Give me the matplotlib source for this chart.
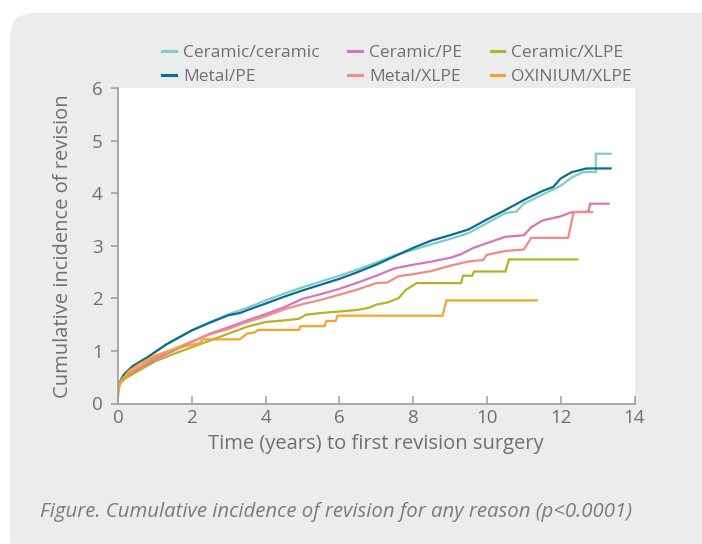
import matplotlib
matplotlib.use("Agg")
import matplotlib.pyplot as plt
from matplotlib.patches import FancyBboxPatch

plt.rcParams['font.family'] = ['Open Sans', 'DejaVu Sans']

# series (years, cumulative incidence %)
labels = ["Ceramic/ceramic", "Metal/PE", "Ceramic/PE", "Metal/XLPE",
          "Ceramic/XLPE", "OXINIUM/XLPE"]
colors = ["#7fcdc5", "#0b6c94", "#d476bd", "#f48a85", "#b3b325", "#f7a22a"]

cc_t = [0, 0.05, 0.15, 0.4, 0.8, 1.3, 2.0, 2.5, 3.0, 3.5, 4.0, 4.5, 5.0, 5.5, 6.0, 6.5,
        7.0, 7.5, 8.0, 8.5, 9.0, 9.5, 10.0, 10.5, 10.8, 11.0, 11.5, 12.0, 12.3, 12.6,
        12.95, 12.95, 13.35]
cc_v = [0.3, 0.42, 0.55, 0.72, 0.88, 1.12, 1.39, 1.55, 1.70, 1.82, 1.96, 2.09, 2.21, 2.32,
        2.43, 2.55, 2.68, 2.82, 2.92, 3.03, 3.13, 3.24, 3.43, 3.62, 3.65, 3.80, 3.97, 4.14,
        4.30, 4.40, 4.40, 4.75, 4.75]

mpe_t = [0, 0.05, 0.15, 0.4, 0.8, 1.3, 2.0, 2.5, 3.0, 3.3, 3.6, 4.0, 4.5, 5.0, 5.5, 6.0,
         6.5, 7.0, 7.5, 8.0, 8.5, 9.0, 9.5, 10.0, 10.5, 11.0, 11.5, 11.8, 12.0, 12.3, 12.7,
         13.35]
mpe_v = [0.29, 0.4, 0.54, 0.71, 0.88, 1.12, 1.39, 1.54, 1.68, 1.72, 1.80, 1.90, 2.03, 2.15,
         2.26, 2.37, 2.50, 2.64, 2.80, 2.96, 3.10, 3.20, 3.31, 3.50, 3.68, 3.87, 4.04, 4.12,
         4.28, 4.40, 4.47, 4.47]

cpe_t = [0, 0.05, 0.2, 0.5, 1.0, 1.5, 2.0, 2.5, 3.0, 3.5, 4.0, 4.5, 5.0, 5.5, 6.0, 6.5,
         7.0, 7.5, 8.0, 8.5, 9.0, 9.3, 9.6, 10.0, 10.5, 11.0, 11.2, 11.5, 12.0, 12.3, 12.75,
         12.8, 13.3]
cpe_v = [0.25, 0.38, 0.5, 0.62, 0.84, 1.0, 1.17, 1.33, 1.45, 1.58, 1.70, 1.83, 1.99, 2.08,
         2.18, 2.30, 2.43, 2.57, 2.64, 2.70, 2.77, 2.84, 2.95, 3.05, 3.17, 3.20, 3.35, 3.48,
         3.56, 3.64, 3.65, 3.80, 3.80]

mx_t = [0, 0.05, 0.2, 0.5, 1.0, 1.5, 2.0, 2.5, 3.0, 3.5, 4.0, 4.5, 5.0, 5.5, 6.0, 6.5, 7.0,
        7.3, 7.6, 8.0, 8.5, 9.0, 9.5, 9.9, 10.0, 10.5, 11.0, 11.2, 12.2, 12.35, 12.85]
mx_v = [0.28, 0.4, 0.52, 0.66, 0.88, 1.03, 1.18, 1.32, 1.42, 1.55, 1.66, 1.79, 1.89, 1.97,
        2.07, 2.17, 2.29, 2.30, 2.42, 2.46, 2.52, 2.62, 2.70, 2.73, 2.83, 2.90, 2.93, 3.15,
        3.15, 3.64, 3.64]

cx_t = [0, 0.05, 0.2, 0.5, 1.0, 1.5, 2.0, 2.5, 3.0, 3.5, 4.0, 4.5, 4.9, 5.1, 5.5, 6.0, 6.5,
        6.8, 7.0, 7.3, 7.6, 7.8, 8.1, 9.3, 9.35, 9.6, 9.65, 10.5, 10.6, 12.45]
cx_v = [0.28, 0.38, 0.48, 0.6, 0.8, 0.94, 1.07, 1.2, 1.33, 1.46, 1.55, 1.58, 1.61, 1.69,
        1.72, 1.75, 1.78, 1.82, 1.88, 1.92, 2.0, 2.16, 2.29, 2.29, 2.43, 2.43, 2.51, 2.51,
        2.74, 2.74]

ox_t = [0, 0.03, 0.1, 0.3, 0.6, 1.0, 1.5, 2.0, 2.2, 2.3, 3.3, 3.5, 3.7, 3.8, 4.9, 4.95,
        5.6, 5.65, 5.9, 5.95, 8.8, 8.9, 11.35]
ox_v = [0.12, 0.3, 0.45, 0.62, 0.76, 0.91, 1.03, 1.12, 1.14, 1.22, 1.22, 1.33, 1.35, 1.40,
        1.40, 1.47, 1.47, 1.57, 1.57, 1.67, 1.67, 1.96, 1.96]

series = [(cc_t, cc_v), (mpe_t, mpe_v), (cpe_t, cpe_v), (mx_t, mx_v),
          (cx_t, cx_v), (ox_t, ox_v)]

x_ticks = [0, 2, 4, 6, 8, 10, 12, 14]
y_ticks = [0, 1, 2, 3, 4, 5, 6]

text_col = "#6f7073"
spine_col = "#9b9c9e"

fig = plt.figure(figsize=(7.02, 5.44), dpi=100)
fig.patch.set_facecolor("white")

# grey rounded panel behind everything
W, H = 702.0, 544.0
panel = FancyBboxPatch((10 / W, -20 / H), 720 / W, 551 / H,
                       boxstyle="round,pad=0,rounding_size=0.035",
                       transform=fig.transFigure, facecolor="#ebecec",
                       edgecolor="none", zorder=-5, mutation_aspect=W / H)
fig.patches.append(panel)

ax = fig.add_axes([118 / W, (H - 403.5) / H, 516.5 / W, 315.5 / H])
ax.set_zorder(2)
ax.set_facecolor("white")

for (t, v), lab, c in zip(series, labels, colors):
    ax.plot(t, v, color=c, lw=1.6, label=lab, solid_joinstyle="miter")

ax.set_xlim(0, 14)
ax.set_ylim(0, 6)
ax.set_xticks(x_ticks)
ax.set_yticks(y_ticks)
for s in ["top", "right"]:
    ax.spines[s].set_visible(False)
for s in ["left", "bottom"]:
    ax.spines[s].set_color(spine_col)
    ax.spines[s].set_linewidth(1.2)
ax.tick_params(axis="y", direction="out", length=5, width=1.1, color=spine_col,
               labelsize=13.5, labelcolor=text_col, pad=6)
ax.tick_params(axis="x", direction="in", length=6, width=1.1, color=spine_col,
               labelsize=13.5, labelcolor=text_col, pad=4)

ax.set_xlabel("Time (years) to first revision surgery", fontsize=14.5, color=text_col,
              labelpad=5)
ax.set_ylabel("Cumulative incidence of revision", fontsize=14.5, color=text_col,
              labelpad=14)

leg = fig.legend(loc="upper left", bbox_to_anchor=(155 / W, 1 - 38 / H), ncol=3,
                 frameon=False, fontsize=12.5, handlelength=0.8, handletextpad=0.4,
                 columnspacing=1.65, labelspacing=0.45, borderaxespad=0)
for txt in leg.get_texts():
    txt.set_color(text_col)
for ln in leg.get_lines():
    ln.set_linewidth(2.2)

fig.text(40 / W, 1 - 512 / H,
         "Figure. Cumulative incidence of revision for any reason (p<0.0001)",
         fontsize=14.7, style="italic", color="#7a7b7e", va="center", ha="left")

fig.savefig("out.png", dpi=100)
